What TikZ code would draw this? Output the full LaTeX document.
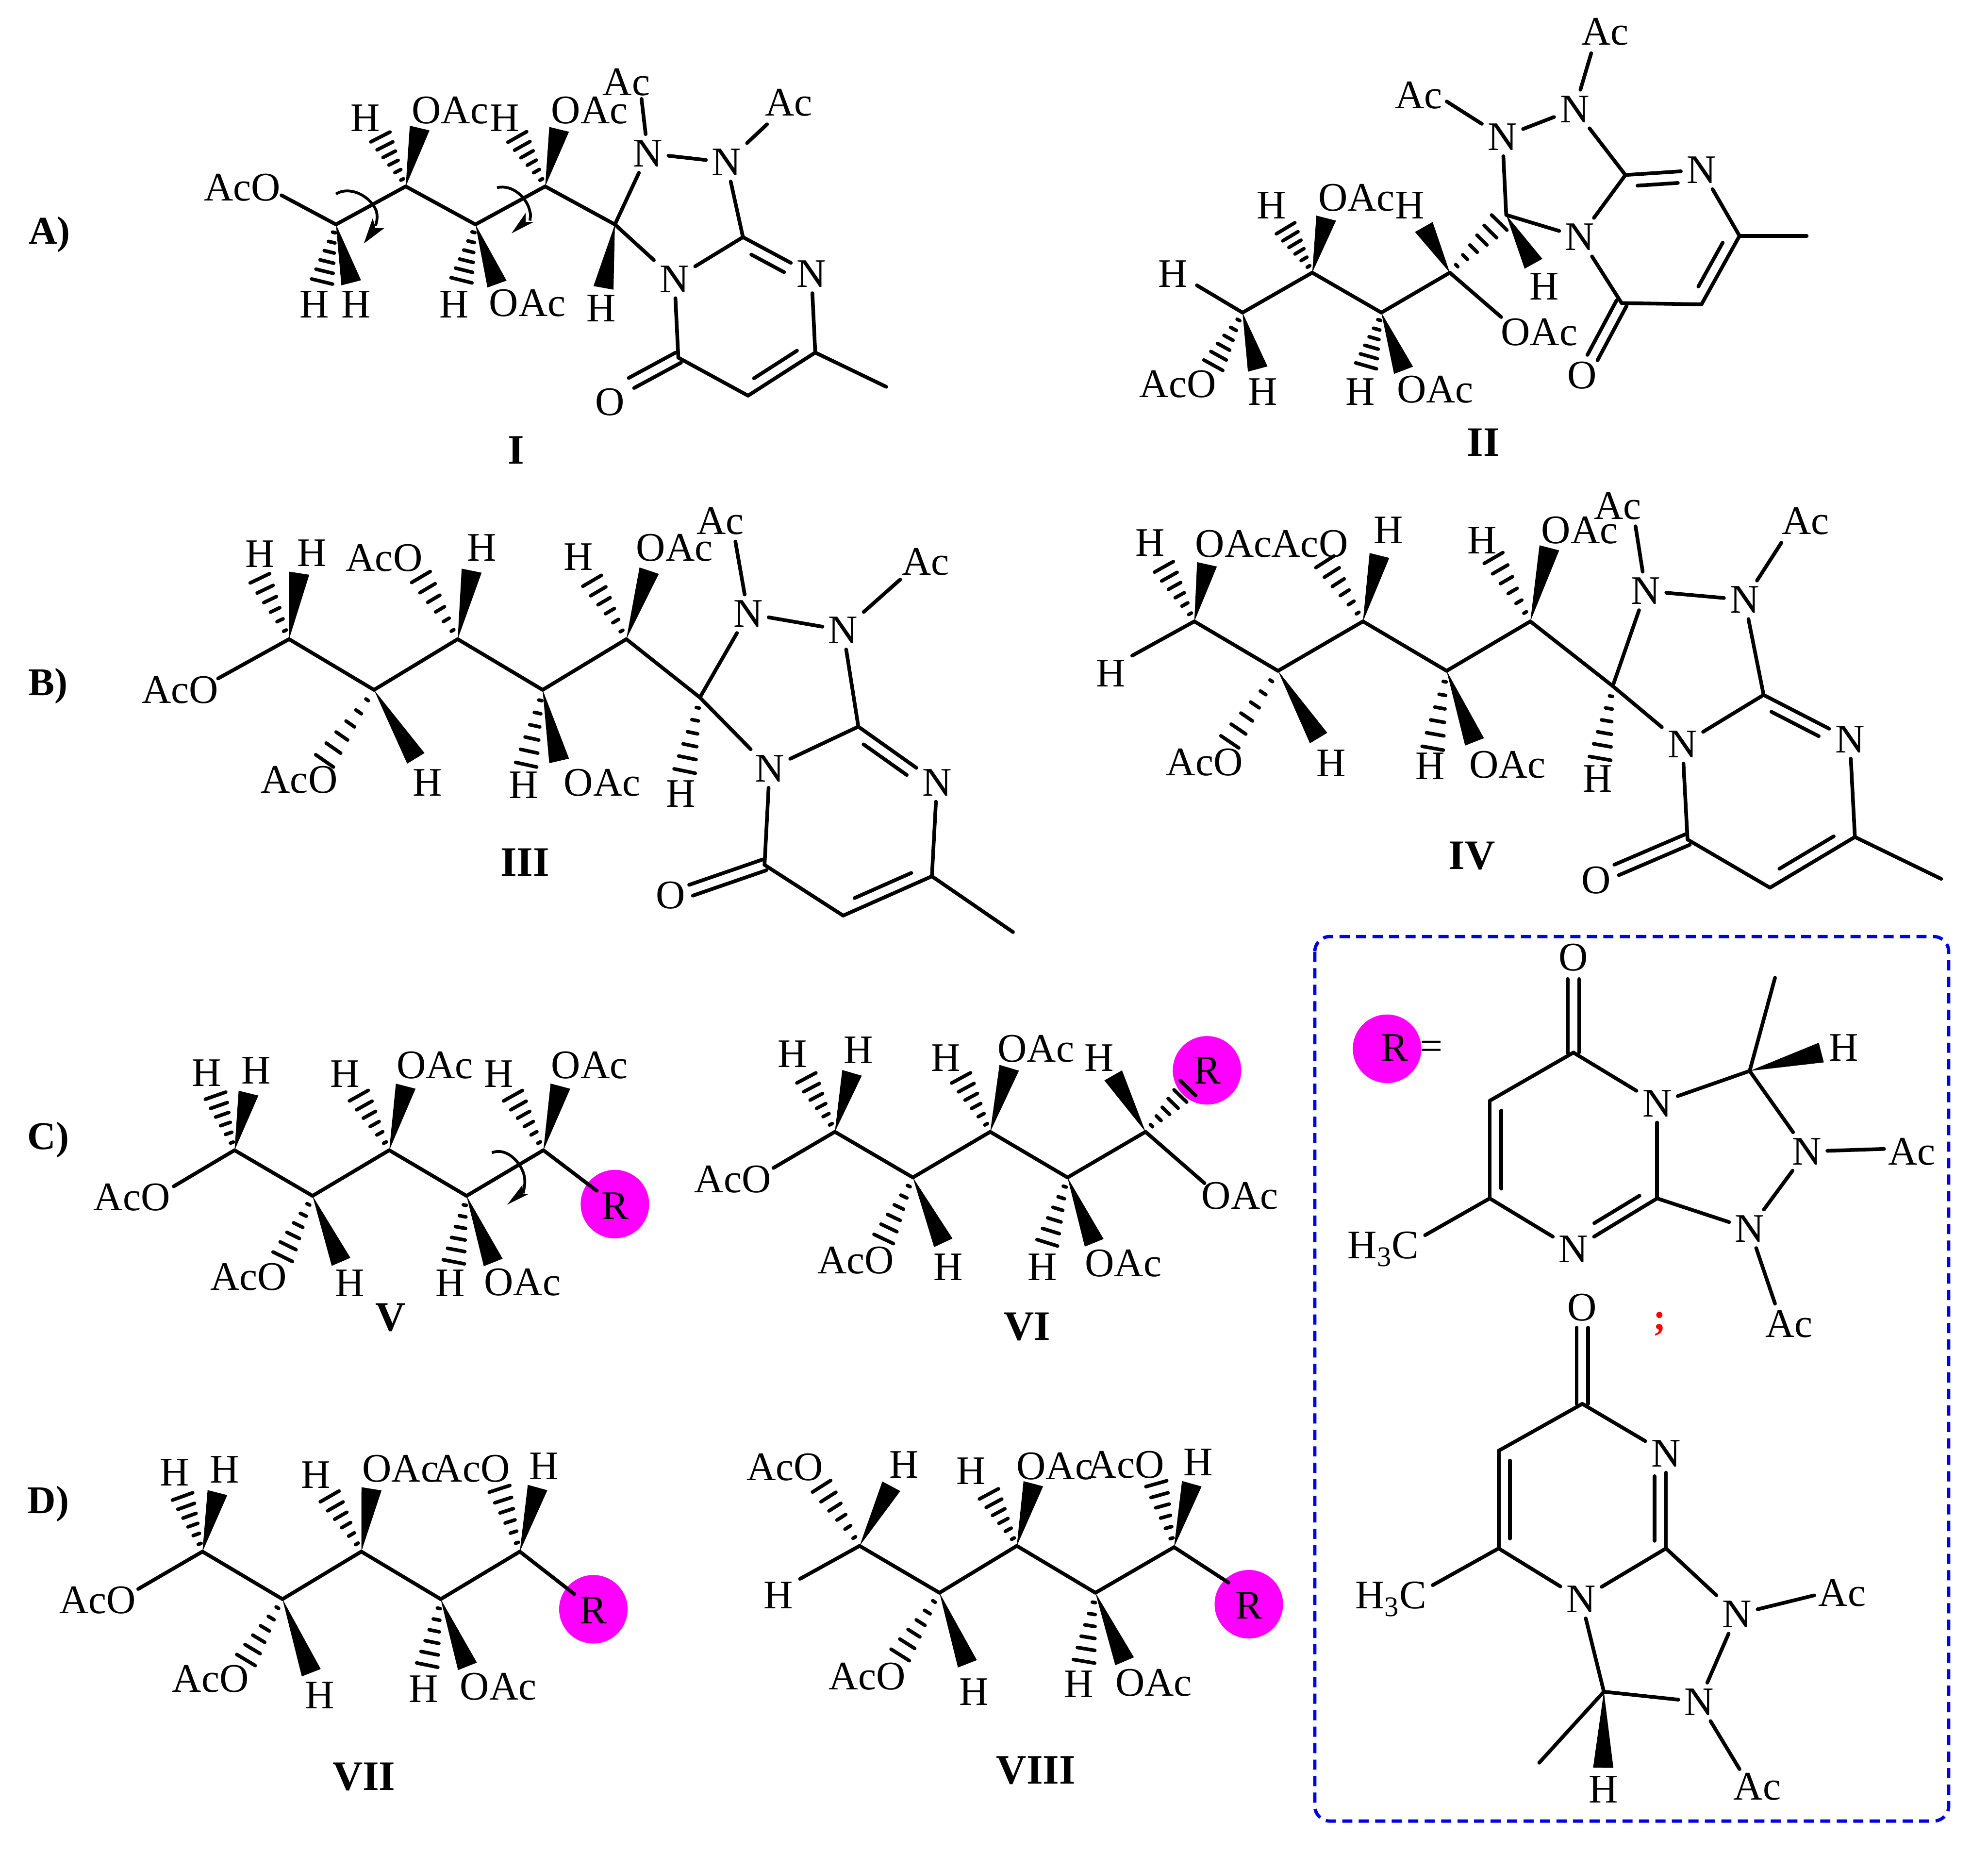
\documentclass[tikz,border=0pt]{standalone}
\usepackage{fontspec}
\setmainfont{Liberation Serif}
\usetikzlibrary{calc}
\tikzset{
  bnd/.style={line width=2.9pt,line cap=round,line join=miter},
  hline/.style={line width=2.8pt,line cap=round},
  lbl/.style={inner sep=4.5pt,font=\fontsize{32}{32}\selectfont},
  ttl/.style={inner sep=1pt,font=\fontsize{33}{33}\selectfont\bfseries},
  sect/.style={inner sep=1pt,font=\fontsize{31}{31}\selectfont\bfseries},
  rdisc/.style={circle,fill=magenta1,minimum size=54pt,inner sep=0pt},
  curlarrow/.style={line width=2.2pt},
  panel/.style={draw=blue1,line width=2.6pt,rounded corners=12pt,dash pattern=on 8pt off 5pt}
}
\definecolor{magenta1}{RGB}{255,0,255}
\definecolor{blue1}{RGB}{0,0,230}
\newcommand\atms[1]{\foreach \n/\x/\y in {#1}{\coordinate (\n) at (\x,\y);}}
\newcommand\labs[1]{\foreach \n/\x/\y/\t in {#1}{\node[lbl] (\n) at (\x,\y) {\t};}}
\newcommand\bds[1]{\foreach \p/\q in {#1}{\draw[bnd] (\p) -- (\q);}}
\newcommand\wdgs[1]{\foreach \p/\x/\y in {#1}{\coordinate (eW) at (\x,\y);
  \fill ($(eW)!8pt!90:(\p)$) -- (\p) -- ($(eW)!8pt!-90:(\p)$) -- cycle;}}
\newcommand\hshs[1]{\foreach \p/\x/\y in {#1}{\coordinate (eH) at (\x,\y);
  \foreach \f in {0.14,0.31,0.48,0.65,0.82,1}{\coordinate (mH) at ($(\p)!\f!(eH)$);
  \draw[hline] ($(mH)!{\f*8.5pt}!90:(\p)$) -- ($(mH)!{\f*8.5pt}!-90:(\p)$);}}}
% double bond: main line plus an inner line on one side (angle 90 = left of a->b)
\newcommand\dbi[5]{\draw[bnd] (#1) -- (#2);
  \draw[bnd] ($($(#1)!#4!(#2)$)!9pt!#3:(#2)$) -- ($($(#1)!#5!(#2)$)!9pt!-#3:(#1)$);}
% symmetric double bond
\newcommand\dbs[2]{\draw[bnd] ($(#1)!4.5pt!90:(#2)$) -- ($(#2)!4.5pt!-90:(#1)$);
  \draw[bnd] ($(#1)!4.5pt!-90:(#2)$) -- ($(#2)!4.5pt!90:(#1)$);}
\begin{document}
\begin{tikzpicture}[x=1pt,y=-1pt]
\useasboundingbox (0,0) rectangle (1568,1461);
% panel titles
\node[sect] (tA) at (39,185) {A)};
\node[sect] (tB) at (38,541) {B)};
\node[sect] (tC) at (38,899) {C)};
\node[sect] (tD) at (38,1186) {D)};
\node[ttl] (t1) at (407,355) {I};
\node[ttl] (t2) at (1170,349) {II};
\node[ttl] (t3) at (414,680) {III};
\node[ttl] (t4) at (1161,675) {IV};
\node[ttl] (t5) at (308,1039) {V};
\node[ttl] (t6) at (810,1046) {VI};
\node[ttl] (t7) at (287,1401) {VII};
\node[ttl] (t8) at (817,1396) {VIII};

% ---------- I
\atms{a1/265/177,a2/320/147,a3/375/177,a4/430/147,a5/485/177,a6/586/187,a7/535/282,a8/590/312,a9/643/278,aM/699/305,aO/222/154,aOe/498/302,aAc1/506/78,aAc2/605/98}
\labs{aN1/511/121/N,aN2/573/128/N,aN3/640/216/N,aN4/532/220/N,aO1/481/317/O,aL1/191/148/AcO,aL2/288/93/H,aL3/355/87/OAc,aL4/398/93/H,aL5/465/87/OAc,aL6/494/65/Ac,aL7/622/81/Ac,aL8/248/240/H,aL9/281/240/H,aL10/358/240/H,aL11/416/239/OAc,aL12/474/243/H}
\bds{aO/a1,a1/a2,a2/a3,a3/a4,a4/a5,a5/aN1,a5/aN4,aN1/aN2,aN2/a6,aN4/a6,aN3/a9,aN4/a7,a7/a8,a9/aM,aAc1/aN1,aAc2/aN2}
\dbi{a6}{aN3}{-90}{0.2}{0.68}
\dbi{a8}{a9}{90}{0.18}{0.82}
\dbs{a7}{aOe}
\wdgs{a1/277/223,a2/331/101,a3/392/224,a4/441/102,a5/476/227}
\hshs{a1/254/222,a2/300/108,a3/364/221,a4/408/108}
\draw[curlarrow] (265,153) .. controls (276,146) and (293,155) .. (297,167) .. controls (298,172) and (297,176) .. (296,178);
\fill (287,192) -- (294,172) -- (296,180) -- (303,180) -- cycle;
\draw[curlarrow] (392,148) .. controls (404,145) and (416,156) .. (418,167) .. controls (419,170) and (418,172) .. (418,174);
\fill (403.5,184) -- (414.5,168) -- (414.5,175) -- (421,175) -- cycle;

% ---------- II
\atms{b1/980/246.5,b2/1035/215,b3/1089.5/246.5,b4/1143.5/215,b5/1188/169.5,b6/1282/138,b7/1279/239,b8/1342/240,b9/1372/186,bM/1425/186,bOe/1256/282,bH1/944/225,bOAe/1184/250,bAe1/1141/80,bAe2/1255/42}
\labs{bN1/1185/108/N,bN2/1242/86/N,bN3/1342/134/N,bN4/1246/187/N,bO1/1248/296/O,bL1/1266/25/Ac,bL2/1119/75/Ac,bL3/925/216/H,bL4/1003/162/H,bL5/1070/156/OAc,bL6/1112/162/H,bL7/1214/262/OAc,bL8/1073/309/H,bL9/1132/307/OAc,bL10/929/303/AcO,bL11/996/309/H,bL12/1218/226/H}
\bds{bH1/b1,b1/b2,b2/b3,b3/b4,b4/bOAe,b5/bN1,b5/bN4,bN1/bN2,bN2/b6,bN4/b6,bN3/b9,bN4/b7,b7/b8,b9/bM,bAe1/bN1,bAe2/bN2}
\dbi{b6}{bN3}{-90}{0.15}{0.68}
\dbi{b8}{b9}{90}{0.18}{0.82}
\dbs{b7}{bOe}
\wdgs{b1/992/291,b2/1046/172,b3/1107/292,b4/1123/179,b5/1209.5/208}
\hshs{b1/957/288,b2/1014/180,b3/1077.5/288.5,b4/1182.5/175.5}

% ---------- III
\atms{c1/228/504,c2/295/544,c3/361/504,c4/428/544,c5/494/504,c6/552/550,c7/677/573,c8/603/682,c9/665/722,c10/735/691,cM/799/735,cOe/545/702,cOa/172/535,cAe1/580/427,cAe2/710/457}
\labs{cN1/590/484/N,cN2/665/497/N,cN3/739/617/N,cN4/607/606/N,cO1/529/706/O,cL1/205/437/H,cL2/246/436/H,cL3/303/440/AcO,cL4/380/432/H,cL5/456/439/H,cL6/532/432/OAc,cL7/568/411/Ac,cL8/730/443/Ac,cL9/142/544/AcO,cL10/236/615/AcO,cL11/337/617/H,cL12/413/619/H,cL13/475/617/OAc,cL14/537/626/H}
\bds{cOa/c1,c1/c2,c2/c3,c3/c4,c4/c5,c5/c6,c6/cN1,c6/cN4,cN1/cN2,cN2/c7,cN4/c7,cN3/c10,cN4/c8,c8/c9,c10/cM,cAe1/cN1,cAe2/cN2}
\dbi{c7}{cN3}{-90}{0.15}{0.7}
\dbi{c9}{c10}{90}{0.18}{0.82}
\dbs{c8}{cOe}
\wdgs{c1/236/452,c2/328/598,c3/372/450,c4/441/600,c5/512/450}
\hshs{c1/205/456,c2/256/600,c3/332/455,c4/415/603,c5/467/458,c6/540/608}

% ---------- IV
\atms{d1/942/490,d2/1008/529,d3/1075/490,d4/1141/529,d5/1207/490,d6/1272/541,d7/1391/548,d8/1331/662,d9/1396/700,d10/1463/660,dM/1531/693,dOe/1275/686,dH/893/517,dAe1/1290/415,dAe2/1405/428}
\labs{dN1/1298/466/N,dN2/1376/473/N,dN3/1459/583/N,dN4/1327/587/N,dO1/1259/694/O,dL1/907/428/H,dL2/973/429/OAc,dL3/1033/429/AcO,dL4/1095/418/H,dL5/1169/426/H,dL6/1246/418/OAc,dL7/1276/399/Ac,dL8/1424/411/Ac,dL9/876/531/H,dL10/950/601/AcO,dL11/1050/602/H,dL12/1128/604/H,dL13/1189/603/OAc,dL14/1260/614/H}
\bds{dH/d1,d1/d2,d2/d3,d3/d4,d4/d5,d5/d6,d6/dN1,d6/dN4,dN1/dN2,dN2/d7,dN4/d7,dN3/d10,dN4/d8,d8/d9,d10/dM,dAe1/dN1,dAe2/dN2}
\dbi{d7}{dN3}{-90}{0.15}{0.7}
\dbi{d9}{d10}{90}{0.18}{0.82}
\dbs{d8}{dOe}
\wdgs{d1/952/445,d2/1040/582,d3/1088/438,d4/1163/585,d5/1222/432}
\hshs{d1/918/447,d2/970/585,d3/1045/443,d4/1130/590,d5/1178/440,d6/1262/598}

% ---------- V
\node[rdisc] (eR) at (485,949.5) {};
\atms{e1/185/907,e2/246.5/943,e3/307/907,e4/368/943,e5/428.6/907,eRe/470.7/939,eOa/137/935.5}
\labs{eRl/485/951/R,eL1/104/944/AcO,eL2/196/1007/AcO,eL3/276/1012/H,eL4/355/1012/H,eL5/412/1011/OAc,eL6/163/846/H,eL7/202/844/H,eL8/272/847/H,eL9/343/840/OAc,eL10/393.5/847/H,eL11/465/840/OAc}
\bds{eOa/e1,e1/e2,e2/e3,e3/e4,e4/e5,e5/eRe}
\wdgs{e1/196/862,e2/269/995,e3/320/856.5,e4/389/995.5,e5/442/856.5}
\hshs{e1/170/864,e2/223/991,e3/283/864,e4/358/995,e5/404.6/864}
\draw[curlarrow] (388,909) .. controls (400,904) and (412,918) .. (413.6,928) .. controls (414.5,933) and (413.5,937) .. (412.5,941);
\fill (400,950) -- (412,934.5) -- (412.5,941.5) -- (417,941.5) -- cycle;

% ---------- VI
\node[rdisc] (fR) at (952,844) {};
\atms{f1/658.5/892.5,f2/720/928.5,f3/781/892.5,f4/842/928.5,f5/903.5/892.5,fOa/610/921,fOb/950/933}
\labs{fRl/952/844/R,fL1/625/831/H,fL2/677/828/H,fL3/746/834/H,fL4/817/827/OAc,fL5/867/834/H,fL6/578/930/AcO,fL7/675/994/AcO,fL8/748/999/H,fL9/822/999/H,fL10/886/996/OAc,fL11/978/943/OAc}
\bds{fOa/f1,f1/f2,f2/f3,f3/f4,f4/f5,f5/fOb}
\wdgs{f1/672/846,f2/744/980,f3/796/842,f4/863/980,f5/878/848}
\hshs{f1/636/850,f2/697/977,f3/758/850,f4/826/980,f5/937/858}

% ---------- VII
\node[rdisc] (gR) at (468,1269) {};
\atms{g1/159.7/1223.5,g2/222.8/1261,g3/285/1223.5,g4/347.6/1261,g5/410/1223.5,gRe/453/1257,gOa/109/1253}
\labs{gRl/468/1270/R,gL1/137.7/1161/H,gL2/177/1159/H,gL3/249/1163/H,gL4/316/1158/OAc,gL5/372/1158/AcO,gL6/429/1156/H,gL7/77/1262/AcO,gL8/166/1324/AcO,gL9/252/1337/H,gL10/334/1332/H,gL11/393/1330/OAc}
\bds{gOa/g1,g1/g2,g2/g3,g3/g4,g4/g5,g5/gRe}
\wdgs{g1/171.5/1177,g2/245.5/1319,g3/293/1174,g4/368.7/1314,g5/424/1173}
\hshs{g1/144/1180,g2/194/1309,g3/260/1180,g4/337/1313,g5/394/1174}

% ---------- VIII
\node[rdisc] (hR) at (985,1265) {};
\atms{h1/678/1219,h2/741/1256,h3/802/1219,h4/864/1256,h5/926/1220,hRe/969/1248,hHe/631/1245}
\labs{hRl/985/1266/R,hL1/619/1157/AcO,hL2/713/1155/H,hL3/614/1258/H,hL4/766/1160/H,hL5/832/1156/OAc,hL6/888/1155/AcO,hL7/945/1153/H,hL8/684/1322/AcO,hL9/768/1334/H,hL10/851/1328/H,hL11/910/1327/OAc}
\bds{hHe/h1,h1/h2,h2/h3,h3/h4,h4/h5,h5/hRe}
\wdgs{h1/703/1172,h2/763/1312,h3/815/1170,h4/887/1310,h5/940/1170}
\hshs{h1/648/1172,h2/710/1305,h3/780/1178,h4/855/1310,h5/912/1170}

% ---------- boxed R definitions
\draw[panel] (1037,738.5) rectangle (1537,1436);
\node[rdisc] (pR) at (1094,827) {};
\node[lbl] (pRl) at (1100,826) {R};
\node[lbl] (pEq) at (1129,828) {=};
\node[inner sep=0pt,text=red,font=\fontsize{30}{30}\selectfont\bfseries] (pSemi) at (1309,1044) {;};
% upper ring
\atms{p1/1241/830,p2/1175/868,p3/1175/945,p4/1307/945,p5/1380/844.5,pM/1400/771,pOe/1241/772,pHm/1124/974,pAc1/1486/906,pAc2/1400/1028}
\labs{pO1/1241/755/O,pN1/1307/870/N,pN2/1241/985/N,pN3/1425/908/N,pN4/1380/969/N,pL1/1091/985/H\textsubscript{3}C,pL2/1454/826/H,pL3/1508/908/Ac,pL4/1411/1044/Ac}
\bds{p1/p2,p1/pN1,p3/pN2,pN1/p4,pN1/p5,p5/pM,p5/pN3,pN3/pN4,pN4/p4,pN3/pAc1,pN4/pAc2,pHm/p3}
\dbi{p2}{p3}{90}{0.1}{0.9}
\dbi{p4}{pN2}{-90}{0.14}{0.68}
\dbs{p1}{pOe}
\wdgs{p5/1436.5/830}
% lower ring
\atms{q1/1248/1107,q2/1182/1144,q3/1182/1221,q4/1314/1221,q5/1265/1334,qM/1214/1390,qOe/1248/1047,qHm/1130/1250,qAc1/1431/1258,qAc2/1372/1395}
\labs{qO1/1248/1031/O,qN1/1314/1146/N,qN2/1247/1261/N,qN3/1370/1273/N,qN4/1340/1342/N,qL1/1097/1261/H\textsubscript{3}C,qL2/1453/1256/Ac,qL3/1386/1409/Ac,qL4/1264.5/1411/H}
\bds{q1/q2,q1/qN1,q3/qN2,qN2/q4,q4/qN3,qN3/qAc1,qN3/qN4,qN2/q5,q5/qN4,q5/qM,qN4/qAc2,qHm/q3}
\dbi{q2}{q3}{90}{0.1}{0.9}
\dbi{q4}{qN1}{90}{0.08}{0.76}
\dbs{q1}{qOe}
\wdgs{q5/1264.5/1394}
\end{tikzpicture}
\end{document}
